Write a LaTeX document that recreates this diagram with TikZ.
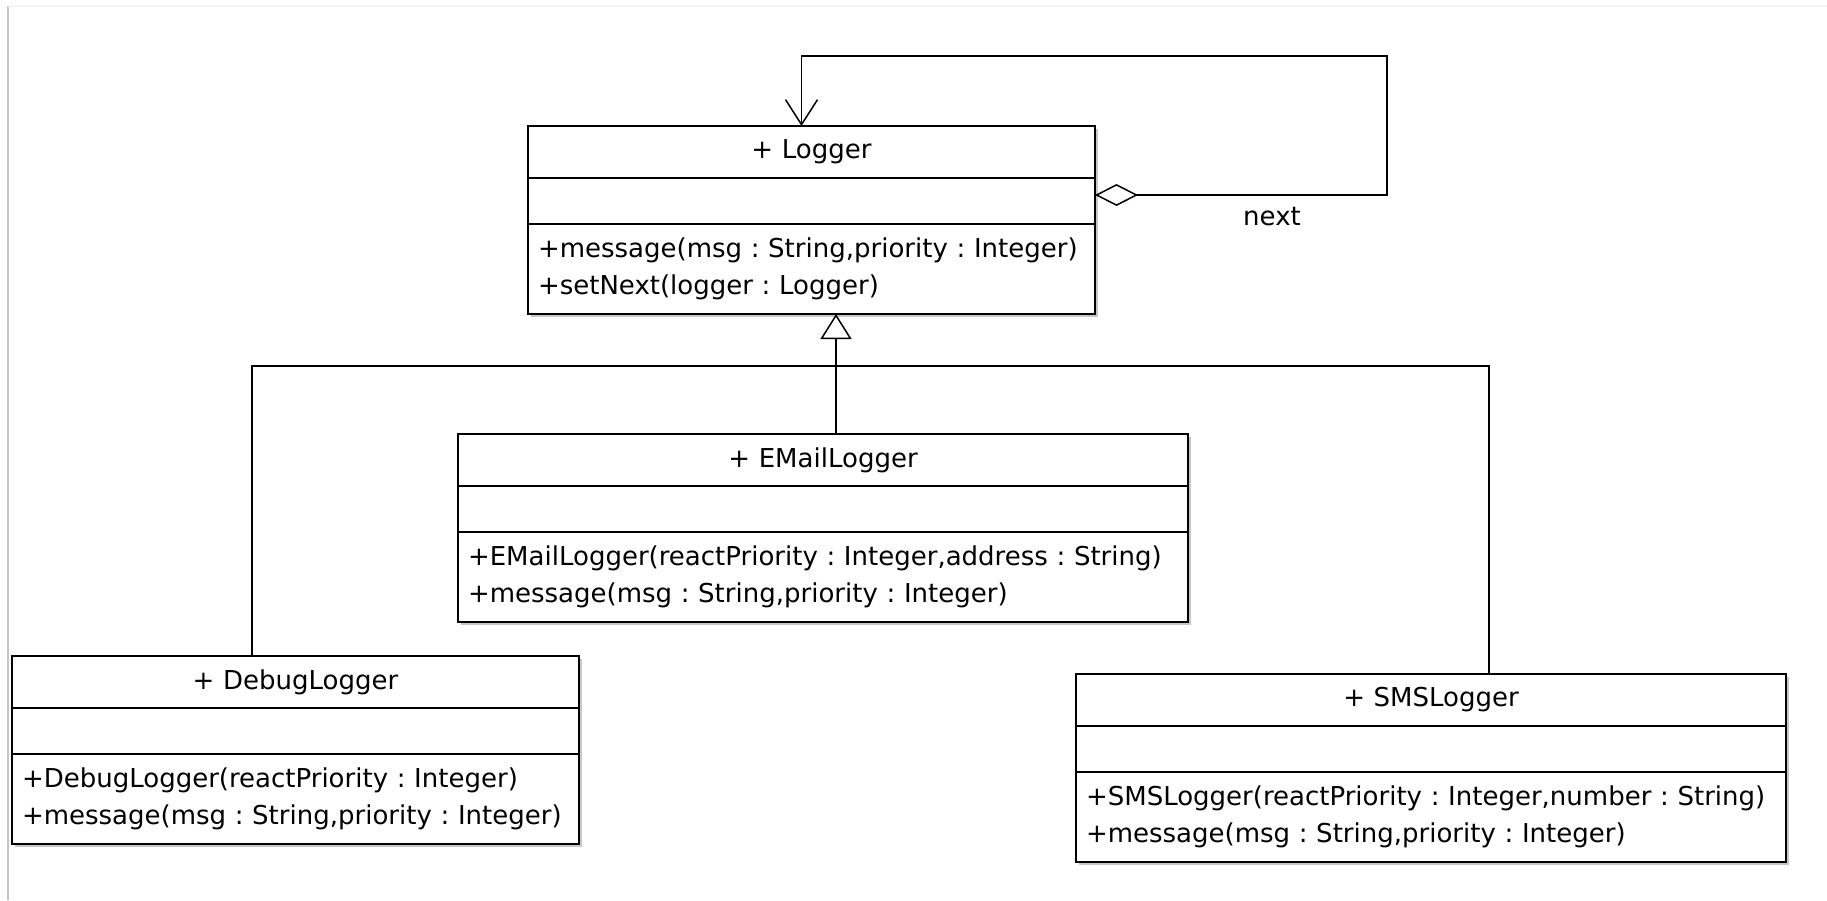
\documentclass[tikz,border=0pt]{standalone}
\usepackage{fontspec}
\setmainfont{DejaVu Sans}
\usepackage{tikz}
\usetikzlibrary{arrows.meta, positioning, fit, backgrounds}

\begin{document}
\begin{tikzpicture}[
  x=1pt, y=-1pt,
  every node/.style = {font=\fontsize{26}{37}\selectfont\frenchspacing},
  classhead/.style  = {draw, fill=white, line width=1.8pt, outer sep=0pt,
                       inner sep=0pt, text width=#1, align=center,
                       minimum height=52pt, anchor=north west},
  classattr/.style  = {draw, fill=white, line width=1.8pt, outer sep=0pt,
                       inner sep=0pt, minimum width=#1, minimum height=46pt},
  classops/.style   = {draw, fill=white, line width=1.8pt, outer sep=0pt,
                       inner xsep=10pt, inner ysep=0pt, text width=#1,
                       align=left, minimum height=90pt},
  classshadow/.style = {fill=black!22, inner sep=0pt, xshift=3pt, yshift=-3pt},
  conn/.style       = {line width=1.5pt},
  inherit/.style    = {conn, -{Triangle[open, length=25pt, width=31pt]}},
  selfref/.style    = {conn, {Diamond[open, length=43pt, width=22pt]}-{Straight Barb[length=25pt, width=32pt]}},
]
\useasboundingbox (0,0) rectangle (1827,900);

%% -- screenshot edge --------------------------------------------------------
\draw[gray!45, line width=1.5pt] (8,900) -- (8,6);
\draw[gray!8, line width=1.5pt] (8,6) -- (1827,6);

%% == Logger =================================================================
\node[classhead=567pt] at (528,126) (logger-head) {+ Logger};
\node[classattr=567pt, below=0pt of logger-head] (logger-attr) {};
\node[classops=547pt, below=0pt of logger-attr] (logger-ops) {
  +message(msg : String,priority : Integer)\\
  +setNext(logger : Logger)
};

%% == EMailLogger ============================================================
\node[classhead=730pt] at (458,434) (email-head) {+ EMailLogger};
\node[classattr=730pt, below=0pt of email-head] (email-attr) {};
\node[classops=710pt, below=0pt of email-attr] (email-ops) {
  +EMailLogger(reactPriority : Integer,address : String)\\
  +message(msg : String,priority : Integer)
};

%% == DebugLogger ============================================================
\node[classhead=567pt] at (12,656) (debug-head) {+ DebugLogger};
\node[classattr=567pt, below=0pt of debug-head] (debug-attr) {};
\node[classops=547pt, below=0pt of debug-attr] (debug-ops) {
  +DebugLogger(reactPriority : Integer)\\
  +message(msg : String,priority : Integer)
};

%% == SMSLogger ==============================================================
\node[classhead=710pt] at (1076,674) (sms-head) {+ SMSLogger};
\node[classattr=710pt, below=0pt of sms-head] (sms-attr) {};
\node[classops=690pt, below=0pt of sms-attr] (sms-ops) {
  +SMSLogger(reactPriority : Integer,number : String)\\
  +message(msg : String,priority : Integer)
};

%% -- shadows ----------------------------------------------------------------
\begin{scope}[on background layer]
  \node[classshadow, fit=(logger-head)(logger-ops)] (logger-shadow) {};
  \node[classshadow, fit=(email-head)(email-ops)]   (email-shadow) {};
  \node[classshadow, fit=(debug-head)(debug-ops)]   (debug-shadow) {};
  \node[classshadow, fit=(sms-head)(sms-ops)]       (sms-shadow) {};
\end{scope}

%% -- self association: next -------------------------------------------------
\coordinate (loop-corner) at (1387,56);
\draw[selfref] ([yshift=6pt]logger-attr.east) -| (loop-corner)
               -| ([xshift=-10pt]logger-head.north);
\node at (1272,217) (next-label) {next};

%% -- generalisation ---------------------------------------------------------
\coordinate (trunk) at (836,366);
\coordinate (fork-left) at (252,366);
\coordinate (fork-right) at (1489,366);
\draw[inherit] (email-head.north -| trunk) -- (logger-ops.south -| trunk);
\draw[conn] (debug-head.north -| fork-left) -- (fork-left)
            -- (fork-right) -- (sms-head.north -| fork-right);

\end{tikzpicture}
\end{document}
